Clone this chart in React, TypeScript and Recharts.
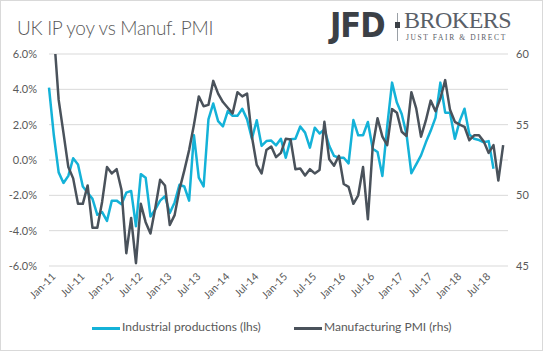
import { LineChart, Line, XAxis, YAxis, CartesianGrid } from 'recharts';

const MONTHS = ['Jan', 'Feb', 'Mar', 'Apr', 'May', 'Jun', 'Jul', 'Aug', 'Sep', 'Oct', 'Nov', 'Dec'];
const YEARS = ['11', '12', '13', '14', '15', '16', '17', '18'];

// Industrial production, % yoy (lhs), Jan-11 onwards
const ipYoy = [
  4.1, 1.4, -0.7, -1.3, -0.9, 0.1, -0.25, -1.5, -1.85, -2.2, -3.1, -2.95,
  -3.45, -2.3, -2.3, -2.5, -1.85, -1.75, -3.75, -0.8, -1.0, -3.2, -2.8, -2.3,
  -2.05, -3.0, -2.4, -1.4, -1.5, -2.3, 1.4, -1.0, -1.5, 2.3, 3.2, 2.2,
  1.9, 2.77, 2.5, 2.5, 2.9, 2.3, 1.2, 2.25, 0.8, 1.07, 1.1, 0.83,
  1.2, 0.13, 1.17, 1.2, 1.9, 1.55, 0.7, 1.83, 1.5, 1.73, 0.8, 0.23,
  0.13, 0.13, -0.19, 2.26, 1.4, 1.4, 2.15, 0.64, 0.45, -0.9, 1.9, 4.38,
  3.25, 2.6, 1.45, -0.75, -0.25, 0.26, 1.0, 1.65, 2.4, 4.38, 2.68, 2.68,
  1.2, 2.2, 2.9, 1.45, 1.2, 1.13, 1.0, 1.07, -0.5,
];

// Manufacturing PMI (rhs), Jan-11 onwards
const pmi = [
  62.0, 61.5, 56.75, 54.4, 52.0, 51.2, 49.4, 49.4, 50.7, 47.7, 47.7, 49.55,
  52.0, 51.55, 51.85, 50.4, 45.9, 48.4, 45.2, 49.4, 48.1, 47.3, 49.1, 51.1,
  50.7, 47.9, 48.6, 50.4, 51.75, 53.2, 55.0, 57.0, 56.3, 56.4, 58.1, 57.2,
  56.6, 56.2, 55.8, 57.3, 57.0, 57.2, 54.15, 52.15, 51.55, 53.2, 53.45, 52.7,
  53.0, 54.0, 53.95, 51.85, 51.9, 51.4, 51.85, 51.55, 51.8, 55.2, 52.55, 52.1,
  52.8, 50.8, 50.6, 49.4, 50.0, 52.0, 48.3, 53.45, 55.45, 54.15, 53.55, 56.1,
  55.85, 54.5, 54.2, 57.3, 56.15, 54.15, 55.3, 56.7, 55.95, 56.85, 58.15, 56.05,
  55.2, 55.0, 54.85, 53.9, 54.25, 54.25, 53.8, 53.0, 53.55, 51.05, 53.55,
];

const leftTicks = [-6, -4, -2, 0, 2, 4, 6];
const rightTicks = [45, 50, 55, 60];

const CYAN = '#14b2d8';
const DARK = '#4a525b';
const TXT = '#595959';

const categories = YEARS.flatMap(y => MONTHS.map(m => `${m}-${y}`));
const data = categories.map((name, i) => ({
  name,
  ip: i < ipYoy.length ? ipYoy[i] : null,
  pmi: i < pmi.length ? pmi[i] : null,
}));

export default function App() {
  return (
    <div style={{ position: 'absolute', left: 0, top: 0, width: 543, height: 351, boxSizing: 'border-box', border: '1px solid #d9d9d9', background: '#fff', fontFamily: 'Lato, sans-serif' }}>
      <div style={{ position: 'absolute', left: 16, top: 15, fontSize: 19, color: TXT, fontWeight: 300, letterSpacing: -0.3, whiteSpace: 'nowrap' }}>UK IP yoy vs Manuf. PMI</div>

      {/* logo */}
      <div style={{ position: 'absolute', left: 329, top: 4, fontFamily: "'Liberation Sans Narrow', 'DejaVu Sans Condensed', sans-serif", fontWeight: 700, fontSize: 34, color: '#3b4046', letterSpacing: -1 }}>JFD</div>
      <div style={{ position: 'absolute', left: 396, top: 12, width: 1, height: 28, background: '#9aa0a6' }} />
      <div style={{ position: 'absolute', left: 394, top: 21, width: 5, height: 6, background: '#3b4046' }} />
      <div style={{ position: 'absolute', left: 403, top: 6, fontFamily: "'Liberation Serif', serif", fontSize: 24, color: '#5a6068', letterSpacing: -0.5 }}>BROKERS</div>
      <div style={{ position: 'absolute', left: 405, top: 32, fontFamily: "'Liberation Serif', serif", fontSize: 7.5, color: '#5a6068', letterSpacing: 1.6, whiteSpace: 'nowrap' }}>JUST FAIR &amp; DIRECT</div>

      <div style={{ position: 'absolute', left: -1, top: -1 }}>
        <LineChart width={543} height={351} data={data} margin={{ top: 54, right: 0, bottom: 35, left: 0 }}>
          <CartesianGrid yAxisId="l" vertical={false} stroke="#d9d9d9" strokeWidth={1} />
          <XAxis
            dataKey="name"
            interval={5}
            angle={-45}
            textAnchor="end"
            height={50}
            tickSize={0}
            tickMargin={6}
            axisLine={false}
            tick={{ fontSize: 10.5, fill: TXT, dx: 2 }}
          />
          <YAxis
            yAxisId="l"
            orientation="left"
            width={49}
            domain={[-6, 6]}
            ticks={leftTicks}
            allowDataOverflow
            axisLine={false}
            tickLine={false}
            tickSize={0}
            tickMargin={12}
            tickFormatter={(v: number) => `${v.toFixed(1)}%`}
            tick={{ fontSize: 11, fill: TXT }}
          />
          <YAxis
            yAxisId="r"
            orientation="right"
            width={35}
            domain={[45, 60]}
            ticks={rightTicks}
            allowDataOverflow
            axisLine={false}
            tickLine={false}
            tickSize={0}
            tickMargin={8}
            tick={{ fontSize: 11, fill: TXT }}
          />
          <Line yAxisId="l" type="linear" dataKey="ip" stroke={CYAN} strokeWidth={2.5} dot={false} isAnimationActive={false} strokeLinejoin="round" />
          <Line yAxisId="r" type="linear" dataKey="pmi" stroke={DARK} strokeWidth={2.5} dot={false} isAnimationActive={false} strokeLinejoin="round" />
        </LineChart>
      </div>

      {/* legend */}
      <div style={{ position: 'absolute', left: 0, top: 318, width: 543, fontSize: 12, color: TXT, whiteSpace: 'nowrap' }}>
        <span style={{ position: 'absolute', left: 91, top: 8, width: 28, height: 3, background: CYAN }} />
        <span style={{ position: 'absolute', left: 121, top: 0 }}>Industrial productions (lhs)</span>
        <span style={{ position: 'absolute', left: 293, top: 8, width: 28, height: 3, background: DARK }} />
        <span style={{ position: 'absolute', left: 323, top: 0 }}>Manufacturing PMI (rhs)</span>
      </div>
    </div>
  );
}
